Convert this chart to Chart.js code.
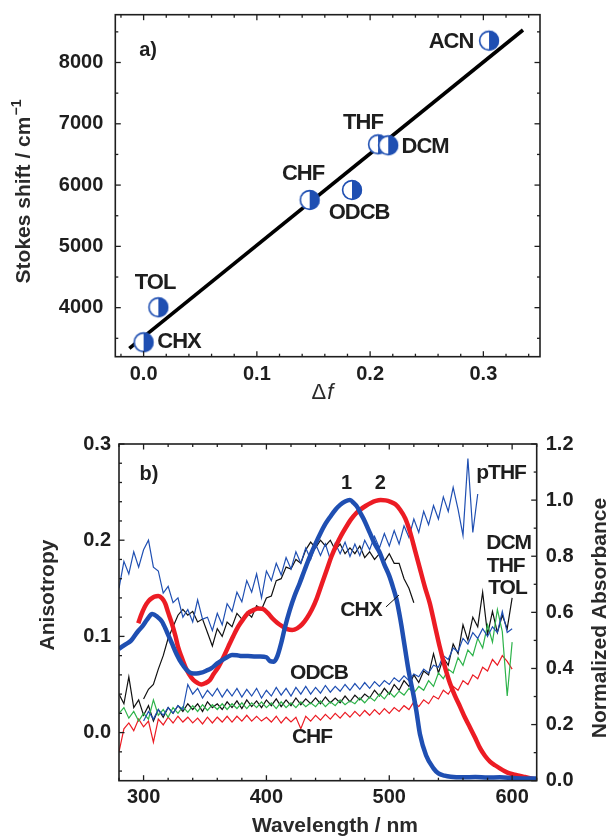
<!DOCTYPE html>
<html><head><meta charset="utf-8">
<script src="https://cdn.jsdelivr.net/npm/chart.js@4.4.1/dist/chart.umd.min.js"></script>
<style>
html,body{margin:0;padding:0;background:#fff;width:610px;height:837px;overflow:hidden}
canvas{position:absolute;left:0}
</style></head>
<body>
<canvas id="ca" width="610" height="420" style="top:0"></canvas>
<canvas id="cb" width="610" height="417" style="top:420px"></canvas>
<script>
// ---------- Panel a data ----------
const solventsA = ['CHX','TOL','CHF','ODCB','THF','DCM','ACN'];
const deltaF = [0.0, 0.013, 0.1466, 0.184, 0.207, 0.216, 0.305];
const stokesShift = [3435, 4006, 5757, 5920, 6665, 6649, 8356];
const fitDeltaF = [-0.0126, 0.335];
const fitStokes = [3337, 8530];
const dfTicks = [0.0, 0.1, 0.2, 0.3];
const stokesTicks = [4000, 5000, 6000, 7000, 8000];
const labelsA = ['ACN','THF','DCM','CHF','ODCB','TOL','CHX','a)'];
const labelAX = [0.2714, 0.1937, 0.2485, 0.1408, 0.1902, 0.0101, 0.0313, 0.0039];
const labelAY = [8335, 7013, 6622, 6181, 5545, 4403, 3440, 8188];

// ---------- Panel b data ----------
const wlTicks = [300, 400, 500, 600];
const anisTicks = [0.0, 0.1, 0.2, 0.3];
const absTicks = [0.0, 0.2, 0.4, 0.6, 0.8, 1.0, 1.2];

const abs1WL = [280,285,290,295,299,303,307,311,315,319,323,327,331,335,339,343,347,351,355,360,364,368,372,376,380,385,390,395,400,403,406,409,412,415,419,423,427,431,435,440,444,448,452,456,460,464,468,471,474,477,480,484,488,492,496,500,503,506,508,510,513,516,519.5,522,525,530,536,540,545,550,560,570,580,590,600,610,620];
const abs1 = [0.47,0.485,0.50,0.53,0.55,0.575,0.594,0.585,0.567,0.53,0.49,0.45,0.418,0.395,0.383,0.382,0.385,0.392,0.40,0.418,0.43,0.44,0.448,0.447,0.444,0.444,0.443,0.443,0.44,0.426,0.424,0.445,0.49,0.545,0.608,0.66,0.703,0.75,0.795,0.845,0.882,0.915,0.941,0.965,0.983,0.995,1.0,0.99,0.975,0.95,0.925,0.885,0.845,0.815,0.77,0.73,0.69,0.644,0.60,0.55,0.466,0.385,0.31,0.25,0.165,0.09,0.044,0.026,0.018,0.014,0.012,0.013,0.011,0.012,0.010,0.008,0.008];

const abs2WL = [295.7,298,301,304,306.6,309,312,315,317.6,320,323,326,328,331,334,337,340.6,344,347,350,354,357,361,365,369,373,377,381,385,389,393,397,401,405,409,413,417,421,425,429,433,437,441,445,449,453,457,461,465,469,473,477,481,485,489,493,497,501,505,509,513,517,521,525,529,533,537,541,545,549.4,553.5,557.6,561.6,565.7,570,574,578,582,586,590,594,598,602,606.5,610.5,614.6,618,620];
const abs2 = [0.561,0.59,0.62,0.64,0.65,0.656,0.658,0.65,0.632,0.60,0.561,0.515,0.478,0.44,0.406,0.38,0.359,0.348,0.343,0.347,0.359,0.38,0.406,0.44,0.478,0.515,0.549,0.575,0.597,0.607,0.614,0.612,0.598,0.578,0.562,0.55,0.54,0.537,0.543,0.557,0.58,0.61,0.65,0.70,0.75,0.80,0.84,0.875,0.905,0.932,0.953,0.968,0.98,0.99,0.997,1.0,0.999,0.994,0.985,0.965,0.935,0.885,0.82,0.755,0.69,0.632,0.555,0.478,0.41,0.347,0.302,0.264,0.225,0.19,0.152,0.115,0.088,0.068,0.055,0.044,0.034,0.026,0.021,0.017,0.013,0.009,0.005,0.003];

// anisotropy traces, sampled on this wavelength grid
const wlGrid = [280,284,288,292,296,300,304,308,312,316,320,324,328,332,336,340,344,348,352,356,360,364,368,372,376,380,384,388,392,396,400,404,408,412,416,420,424,428,432,436,440,444,448,452,456,460,464,468,472,476,480,484,488,492,496,500,504,508,512,516,520,524,528,532,536,540,544,548,552,556,560,564,568,572,576,580,584,588,592,596,600];

const anisPTHF = [0.150,0.178,0.165,0.188,0.172,0.190,0.200,0.172,0.168,0.145,
 0.152,0.135,0.140,0.120,0.128,0.115,0.138,0.118,0.120,0.106,
 0.124,0.112,0.134,0.126,0.146,0.136,0.158,0.146,0.165,0.140,
 0.168,0.158,0.176,0.164,0.182,0.170,0.188,0.176,0.192,0.180,
 0.196,0.184,0.196,0.180,0.197,0.186,0.198,0.183,0.196,0.184,
 0.200,0.190,0.204,0.192,0.207,0.194,0.210,0.196,0.215,0.203,
 0.222,0.208,0.230,0.216,0.236,0.222,0.245,0.230,0.255,0.232,
 0.205,0.285,0.208,0.248];            // 280 .. 572
const anisCHX = [0.035,0.045,0.050,0.066,0.080,0.098,0.110,0.122,0.128,0.122,
 0.126,0.115,0.118,0.104,0.090,0.108,0.100,0.115,0.110,0.124,
 0.118,0.125,0.120,0.132,0.128,0.140,0.142,0.158,0.160,0.172,
 0.170,0.180,0.176,0.190,0.198,0.192,0.200,0.194,0.200,0.190,
 0.196,0.186,0.192,0.186,0.194,0.182,0.188,0.180,0.186,0.178,
 0.186,0.176,0.176,0.160,0.150,0.135];  // 300 .. 520
const anisDCM = [0.040,0.030,0.058,0.026,0.034,0.018,0.028,0.012,0.024,0.016,
 0.026,0.020,0.028,0.022,0.030,0.024,0.030,0.022,0.032,0.026,
 0.030,0.024,0.032,0.026,0.033,0.025,0.034,0.027,0.033,0.026,
 0.034,0.028,0.035,0.027,0.034,0.028,0.036,0.029,0.035,0.030,
 0.036,0.030,0.037,0.031,0.036,0.031,0.038,0.032,0.039,0.034,
 0.040,0.036,0.044,0.038,0.046,0.040,0.050,0.044,0.054,0.048,
 0.060,0.052,0.064,0.060,0.082,0.062,0.078,0.070,0.092,0.082,
 0.112,0.096,0.120,0.110,0.146,0.102,0.126,0.104,0.122,0.108,
 0.140];                               // 280 .. 600
const anisTHF = [0.020,0.026,0.015,0.022,0.012,0.020,0.014,0.034,0.018,0.024,
 0.016,0.026,0.020,0.027,0.021,0.028,0.022,0.029,0.023,0.029,
 0.024,0.030,0.024,0.030,0.025,0.031,0.025,0.031,0.026,0.032,
 0.026,0.031,0.025,0.032,0.026,0.031,0.026,0.032,0.027,0.031,
 0.027,0.033,0.027,0.032,0.028,0.034,0.029,0.033,0.030,0.036,
 0.031,0.037,0.033,0.040,0.035,0.042,0.037,0.043,0.039,0.046,
 0.041,0.048,0.044,0.054,0.048,0.062,0.056,0.066,0.062,0.078,
 0.070,0.086,0.080,0.098,0.088,0.112,0.094,0.128,0.105,0.038,
 0.094];                               // 280 .. 600
const anisODCB = [0.012,0.022,0.014,0.024,0.018,0.026,0.020,0.028,0.024,0.050,
 0.040,0.046,0.036,0.044,0.038,0.046,0.037,0.045,0.038,0.046,
 0.037,0.045,0.038,0.046,0.036,0.044,0.038,0.047,0.039,0.046,
 0.038,0.047,0.040,0.048,0.040,0.047,0.041,0.049,0.042,0.048,
 0.043,0.050,0.044,0.051,0.045,0.052,0.046,0.053,0.048,0.054,
 0.050,0.057,0.053,0.059,0.054,0.061,0.058,0.066,0.062,0.070,
 0.068,0.080,0.076,0.088,0.084,0.098,0.092,0.104,0.098,0.108,
 0.100,0.110,0.104,0.126,0.104,0.108]; // 300 .. 600
const anisCHF = [-0.020,0.004,0.010,0.002,0.014,0.006,0.012,-0.010,0.014,0.008,
 0.016,0.010,0.017,0.011,0.016,0.010,0.015,0.009,0.016,0.010,
 0.016,0.011,0.017,0.011,0.017,0.012,0.018,0.012,0.017,0.012,
 0.016,0.011,0.017,0.010,0.016,0.011,0.016,0.004,0.017,0.012,
 0.018,0.013,0.019,0.014,0.020,0.015,0.021,0.016,0.022,0.017,
 0.023,0.018,0.024,0.019,0.025,0.020,0.026,0.022,0.028,0.024,
 0.032,0.027,0.034,0.030,0.038,0.035,0.044,0.040,0.048,0.044,
 0.054,0.050,0.060,0.056,0.068,0.064,0.076,0.070,0.080,0.074,
 0.066];                               // 280 .. 600

const labelsB = ['b)','1','2','pTHF','DCM','THF','TOL','CHX','ODCB','CHF'];
const labelBX = [304.4, 465.2, 492.8, 591, 597.2, 594.8, 596.2, 477, 442.8, 437.1];
const labelBY = [0.268, 0.259, 0.259, 0.27, 0.197, 0.1725, 0.15, 0.1275, 0.0616, -0.0043];
const leaderWL = [497.3, 507.9];
const leaderAnis = [0.1306, 0.143];

// ---------- helpers ----------
const TXT = '#1e1e1e';
const FAM = '"Liberation Sans", Arial, Helvetica, sans-serif';
const BLUE = '#1f4fb2';
const RED = '#ec1c24';
const GREEN = '#2db34a';

function pairs(xs, ys) { const out = []; for (let i = 0; i < ys.length; i++) out.push({x: xs[i], y: ys[i]}); return out; }

function halfCircle(r, color) {
  const s = Math.ceil(2 * r + 4), c = document.createElement('canvas');
  c.width = c.height = s;
  const g = c.getContext('2d'), m = s / 2;
  g.fillStyle = '#fff'; g.beginPath(); g.arc(m, m, r, 0, Math.PI * 2); g.fill();
  g.fillStyle = color; g.beginPath(); g.arc(m, m, r, -Math.PI / 2, Math.PI / 2); g.closePath(); g.fill();
  g.strokeStyle = color; g.lineWidth = 1.6; g.beginPath(); g.arc(m, m, r - 0.6, 0, Math.PI * 2); g.stroke();
  return c;
}

function txt(ctx, s, x, y, font, opt = {}) {
  ctx.save();
  ctx.font = font; ctx.fillStyle = opt.color || TXT;
  ctx.textAlign = opt.align || 'center'; ctx.textBaseline = 'middle';
  if ('letterSpacing' in ctx) ctx.letterSpacing = opt.spacing || '0px';
  ctx.translate(x, y); if (opt.rot) ctx.rotate(opt.rot);
  ctx.fillText(s, 0, 0);
  ctx.restore();
}

function framePlugin(specs) {
  return {
    id: 'frameTicks',
    afterDraw(chart) {
      const {ctx, chartArea: a} = chart;
      ctx.save();
      ctx.strokeStyle = TXT; ctx.lineWidth = 1.6;
      ctx.strokeRect(a.left, a.top, a.right - a.left, a.bottom - a.top);
      ctx.lineWidth = 1.3;
      specs.forEach(sp => {
        const sc = chart.scales[sp.axis];
        const draw = (vals, len) => vals.forEach(v => {
          const p = sc.getPixelForValue(v);
          sp.sides.forEach(side => {
            ctx.beginPath();
            if (side === 'bottom') { ctx.moveTo(p, a.bottom); ctx.lineTo(p, a.bottom - len); }
            if (side === 'top') { ctx.moveTo(p, a.top); ctx.lineTo(p, a.top + len); }
            if (side === 'left') { ctx.moveTo(a.left, p); ctx.lineTo(a.left + len, p); }
            if (side === 'right') { ctx.moveTo(a.right, p); ctx.lineTo(a.right - len, p); }
            ctx.stroke();
          });
        });
        draw(sp.major, 5.5); draw(sp.minor, 3);
      });
      ctx.restore();
    }
  };
}

function minorList(from, to, step, skipEvery) {
  const out = [];
  for (let k = from; k <= to; k++) if (k % skipEvery !== 0) out.push(k * step);
  return out;
}

const fitW = w => s => { s.width = w; s.paddingTop = 0; s.paddingBottom = 0; };
const fitH = h => s => { s.height = h; s.paddingLeft = 0; s.paddingRight = 0; };

const tickFont = {family: FAM, size: 20, weight: 'bold'};
const titleFont = 'bold 21px ' + FAM;
const annFontA = 'bold 22px ' + FAM;
const annFontB = 'bold 21px ' + FAM;

// ---------- Chart a ----------
const markerImg = halfCircle(10, BLUE);
new Chart(document.getElementById('ca'), {
  type: 'scatter',
  data: {datasets: [
    {label: 'Solvents', data: pairs(deltaF, stokesShift), pointStyle: markerImg, pointRadius: 10, showLine: false},
    {label: 'Fit', data: pairs(fitDeltaF, fitStokes), showLine: true, borderColor: '#000', borderWidth: 3.6, pointRadius: 0, tension: 0}
  ]},
  options: {
    responsive: false, animation: false, devicePixelRatio: 1, events: [],
    layout: {padding: {top: 14.7, right: 70, left: 0, bottom: 0}},
    plugins: {legend: {display: false}, tooltip: {enabled: false}},
    scales: {
      x: {type: 'linear', position: 'bottom', min: -0.025, max: 0.35,
        afterBuildTicks: s => { s.ticks = dfTicks.map(v => ({value: v})); },
        afterFit: fitH(63.3),
        grid: {display: false, drawTicks: false, tickLength: 0}, border: {display: false},
        ticks: {font: tickFont, color: TXT, padding: 6, maxRotation: 0, autoSkip: false, callback: v => Number(v).toFixed(1)}},
      y: {type: 'linear', position: 'left', min: 3200, max: 8780,
        afterBuildTicks: s => { s.ticks = stokesTicks.map(v => ({value: v})); },
        afterFit: fitW(115.3),
        grid: {display: false, drawTicks: false, tickLength: 0}, border: {display: false},
        ticks: {font: tickFont, color: TXT, padding: 12, autoSkip: false, callback: v => String(v)}}
    }
  },
  plugins: [
    framePlugin([
      {axis: 'x', sides: ['bottom', 'top'], major: dfTicks, minor: minorList(-1, 17, 0.02, 5)},
      {axis: 'y', sides: ['left', 'right'], major: stokesTicks, minor: minorList(7, 17, 500, 2)}
    ]),
    {
      id: 'annotA',
      afterDatasetsDraw(chart) {
        const ctx = chart.ctx, sx = chart.scales.x, sy = chart.scales.y;
        labelsA.forEach((t, i) => txt(ctx, t, sx.getPixelForValue(labelAX[i]), sy.getPixelForValue(labelAY[i]),
          t === 'a)' ? 'bold 20px ' + FAM : annFontA, {spacing: t === 'a)' ? '0px' : '-1px'}));
        // y title with superscript
        ctx.save();
        ctx.translate(24, 192); ctx.rotate(-Math.PI / 2);
        ctx.fillStyle = '#2a2a2a'; ctx.textBaseline = 'middle'; ctx.textAlign = 'left';
        const main = 'Stokes shift / cm', sup = '\u22121';
        ctx.font = titleFont; const w1 = ctx.measureText(main).width;
        ctx.font = 'bold 14px ' + FAM; const w2 = ctx.measureText(sup).width;
        ctx.font = titleFont; ctx.fillText(main, -(w1 + w2) / 2, 0);
        ctx.font = 'bold 14px ' + FAM; ctx.fillText(sup, -(w1 + w2) / 2 + w1 + 1, -7);
        ctx.restore();
        // x title: Δf
        ctx.save();
        ctx.fillStyle = '#2a2a2a'; ctx.textBaseline = 'middle'; ctx.textAlign = 'left';
        ctx.font = '22px ' + FAM; const d1 = ctx.measureText('\u0394').width;
        ctx.font = 'italic 22px ' + FAM; const d2 = ctx.measureText('f').width;
        const x0 = 322 - (d1 + d2) / 2;
        ctx.font = '22px ' + FAM; ctx.fillText('\u0394', x0, 393);
        ctx.font = 'italic 22px ' + FAM; ctx.fillText('f', x0 + d1 + 1, 393);
        ctx.restore();
      }
    }
  ]
});

// ---------- Chart b ----------
const thin = (label, xs, ys, color) => ({label, data: pairs(xs, ys), showLine: true, borderColor: color, borderWidth: 1.2, pointRadius: 0, tension: 0, yAxisID: 'y'});
new Chart(document.getElementById('cb'), {
  type: 'scatter',
  data: {datasets: [
    {label: '1', data: pairs(abs1WL, abs1), showLine: true, borderColor: BLUE, borderWidth: 4.5, pointRadius: 0, cubicInterpolationMode: 'monotone', yAxisID: 'y2'},
    {label: '2', data: pairs(abs2WL, abs2), showLine: true, borderColor: RED, borderWidth: 4.5, pointRadius: 0, cubicInterpolationMode: 'monotone', yAxisID: 'y2'},
    thin('pTHF', wlGrid, anisPTHF, BLUE),
    thin('CHX', wlGrid.slice(5), anisCHX, '#111'),
    thin('ODCB', wlGrid.slice(5), anisODCB, BLUE),
    thin('THF', wlGrid, anisTHF, GREEN),
    thin('DCM', wlGrid, anisDCM, '#111'),
    thin('CHF', wlGrid, anisCHF, RED)
  ]},
  options: {
    responsive: false, animation: false, devicePixelRatio: 1, events: [],
    layout: {padding: {top: 24, right: 0, left: 0, bottom: 0}},
    plugins: {legend: {display: false}, tooltip: {enabled: false}},
    scales: {
      x: {type: 'linear', position: 'bottom', min: 280, max: 620,
        afterBuildTicks: s => { s.ticks = wlTicks.map(v => ({value: v})); },
        afterFit: fitH(56.3),
        grid: {display: false, drawTicks: false, tickLength: 0}, border: {display: false},
        ticks: {font: tickFont, color: TXT, padding: 5, maxRotation: 0, autoSkip: false, callback: v => String(v)}},
      y: {type: 'linear', position: 'left', min: -0.05, max: 0.3,
        afterBuildTicks: s => { s.ticks = anisTicks.map(v => ({value: v})); },
        afterFit: fitW(119),
        grid: {display: false, drawTicks: false, tickLength: 0}, border: {display: false},
        ticks: {font: tickFont, color: TXT, padding: 8, autoSkip: false, callback: v => Number(v).toFixed(1)}},
      y2: {type: 'linear', position: 'right', min: 0, max: 1.2,
        afterBuildTicks: s => { s.ticks = absTicks.map(v => ({value: v})); },
        afterFit: fitW(73.3),
        grid: {display: false, drawTicks: false, tickLength: 0}, border: {display: false},
        ticks: {font: tickFont, color: TXT, padding: 9, autoSkip: false, callback: v => Number(v).toFixed(1)}}
    }
  },
  plugins: [
    framePlugin([
      {axis: 'x', sides: ['bottom', 'top'], major: wlTicks, minor: minorList(14, 31, 20, 5)},
      {axis: 'y', sides: ['left'], major: anisTicks, minor: minorList(-2, 14, 0.02, 5)},
      {axis: 'y2', sides: ['right'], major: absTicks, minor: [0.1, 0.3, 0.5, 0.7, 0.9, 1.1]}
    ]),
    {
      id: 'annotB',
      afterDatasetsDraw(chart) {
        const ctx = chart.ctx, sx = chart.scales.x, sy = chart.scales.y;
        labelsB.forEach((t, i) => txt(ctx, t, sx.getPixelForValue(labelBX[i]), sy.getPixelForValue(labelBY[i]),
          t.length > 2 ? annFontB : 'bold 20px ' + FAM, {spacing: t.length > 2 ? '-1px' : '0px'}));
        ctx.save();
        ctx.strokeStyle = '#111'; ctx.lineWidth = 1;
        ctx.beginPath();
        ctx.moveTo(sx.getPixelForValue(leaderWL[0]), sy.getPixelForValue(leaderAnis[0]));
        ctx.lineTo(sx.getPixelForValue(leaderWL[1]), sy.getPixelForValue(leaderAnis[1]));
        ctx.stroke();
        ctx.restore();
        txt(ctx, 'Anisotropy', 48, 175, titleFont, {rot: -Math.PI / 2, color: '#2a2a2a'});
        txt(ctx, 'Normalized Absorbance', 600, 198, titleFont, {rot: -Math.PI / 2, color: '#2a2a2a'});
        txt(ctx, 'Wavelength / nm', 335, 406, titleFont, {color: '#2a2a2a'});
      }
    }
  ]
});
</script>
</body></html>
